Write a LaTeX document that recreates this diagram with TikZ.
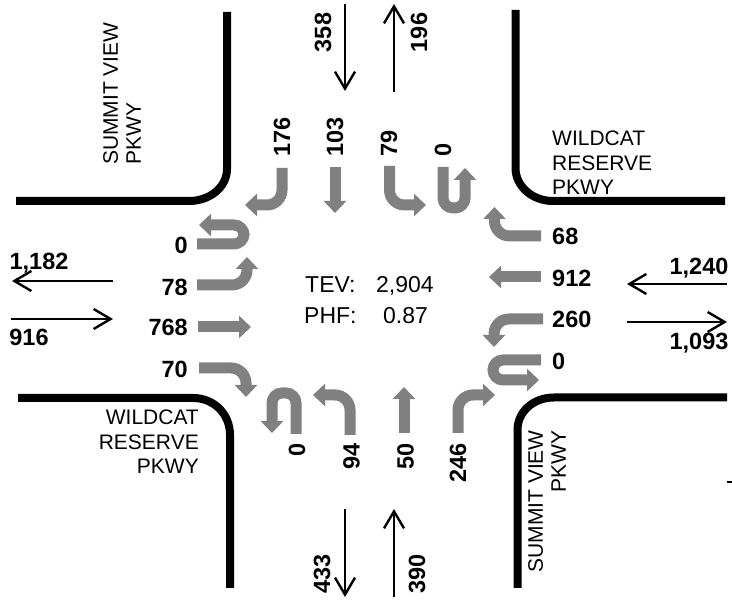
\documentclass[tikz,border=0pt]{standalone}
\usepackage{fontspec}
\setmainfont{Liberation Sans}
\usetikzlibrary{arrows.meta}
\tikzset{
  curb/.style={line width=8pt},
  move/.style={draw=gray,line width=11pt,-{Triangle[width=22pt,length=12pt]},rounded corners=15pt},
  uturn/.style={move,rounded corners=10pt},
  flow/.style={line width=2.4pt,-{Straight Barb[length=17pt,width=20pt]}},
  count/.style={font=\fontsize{23.5}{25}\selectfont\bfseries,inner sep=0pt},
  road/.style={font=\fontsize{21}{24.5}\selectfont,inner sep=0pt},
  roadup/.style={font=\fontsize{21}{23}\selectfont,inner sep=0pt,rotate=90},
  info/.style={font=\fontsize{23}{25}\selectfont,inner sep=0pt,anchor=base west}
}
\begin{document}
\begin{tikzpicture}[x=1pt,y=-1pt,>=stealth]
\useasboundingbox (0,0) rectangle (732,601);

% curbs
\draw[curb] (16,201) -- (189,201) .. controls (210,201) and (227,187) .. (227,169) -- (227,12);
\draw[curb] (515.5,10) -- (515.5,168) .. controls (515.5,186) and (532,201) .. (553,201) -- (725,201);
\draw[curb] (18,398) -- (193,398) .. controls (214,398) and (230,414) .. (230,435) -- (230,588);
\draw[curb] (517.5,588) -- (517.5,430) .. controls (517.5,412) and (533,397.5) .. (554,397.5) -- (727,397.5);
\draw[line width=2pt] (727,482) -- (732,482);

% turning movements, north leg
\coordinate (nr1) at (282,168); \coordinate (nr2) at (245,205);
\coordinate (nt1) at (335,167); \coordinate (nt2) at (335,213);
\coordinate (nl1) at (389.5,166); \coordinate (nl2) at (426,205);
\coordinate (nu1) at (443,167); \coordinate (nu2) at (465,168);
\draw[move] (nr1) |- (nr2);
\draw[move] (nt1) -- (nt2);
\draw[move] (nl1) |- (nl2);
\draw[uturn] (nu1) -- (443,208) -- (465,208) -- (nu2);

% east leg
\coordinate (er1) at (541,236); \coordinate (er2) at (494.5,207);
\coordinate (et1) at (541,277); \coordinate (et2) at (489,277);
\coordinate (el1) at (543,319); \coordinate (el2) at (494,347);
\coordinate (eu1) at (541,360); \coordinate (eu2) at (539,380);
\draw[move] (er1) -| (er2);
\draw[move] (et1) -- (et2);
\draw[move] (el1) -| (el2);
\draw[uturn] (eu1) -- (493,360) -- (493,380) -- (eu2);

% south leg
\coordinate (sr1) at (458,433); \coordinate (sr2) at (495,395);
\coordinate (st1) at (404,433); \coordinate (st2) at (404,387);
\coordinate (sl1) at (350,435); \coordinate (sl2) at (313,395);
\coordinate (su1) at (296,434); \coordinate (su2) at (272,433);
\draw[move] (sr1) |- (sr2);
\draw[move] (st1) -- (st2);
\draw[move] (sl1) |- (sl2);
\draw[uturn] (su1) -- (296,393) -- (272,393) -- (su2);

% west leg
\coordinate (wr1) at (199,368); \coordinate (wr2) at (246,397);
\coordinate (wt1) at (198,327); \coordinate (wt2) at (251,327);
\coordinate (wl1) at (197,285); \coordinate (wl2) at (247,257);
\coordinate (wu1) at (197,244); \coordinate (wu2) at (199,225);
\draw[move] (wr1) -| (wr2);
\draw[move] (wt1) -- (wt2);
\draw[move] (wl1) -| (wl2);
\draw[uturn] (wu1) -- (244,244) -- (244,225) -- (wu2);

% approach and departure volumes
\coordinate (ni1) at (345,4); \coordinate (ni2) at (345,91);
\coordinate (no1) at (394,92); \coordinate (no2) at (394,4);
\coordinate (ei1) at (727,284); \coordinate (ei2) at (627,284);
\coordinate (eo1) at (627,322); \coordinate (eo2) at (727,322);
\coordinate (si1) at (394,597); \coordinate (si2) at (394,509);
\coordinate (so1) at (345,509); \coordinate (so2) at (345,597);
\coordinate (wi1) at (11,319); \coordinate (wi2) at (113,319);
\coordinate (wo1) at (113,281); \coordinate (wo2) at (12,281);
\foreach \a/\b in {ni1/ni2,no1/no2,ei1/ei2,eo1/eo2,si1/si2,so1/so2,wi1/wi2,wo1/wo2}
  \draw[flow] (\a) -- (\b);

% counts
\node[count,rotate=90] (n176) at (282,137) {176};
\node[count,rotate=90] (n103) at (335,137) {103};
\node[count,rotate=90] (n79) at (389,143.5) {79};
\node[count,rotate=90] (n0) at (443,150) {0};
\node[count,anchor=west] (e68) at (552,236) {68};
\node[count,anchor=west] (e912) at (552,278) {912};
\node[count,anchor=west] (e260) at (552,319) {260};
\node[count,anchor=west] (e0) at (552,361) {0};
\node[count,rotate=90] (s0) at (297,450) {0};
\node[count,rotate=90] (s94) at (351.5,456.5) {94};
\node[count,rotate=90] (s50) at (405.5,456.5) {50};
\node[count,rotate=90] (s246) at (458,463) {246};
\node[count,anchor=east] (w0) at (188,245) {0};
\node[count,anchor=east] (w78) at (188,287) {78};
\node[count,anchor=east] (w768) at (188,327) {768};
\node[count,anchor=east] (w70) at (188,369) {70};

% leg volumes
\node[count,rotate=90] (n358) at (323,32.5) {358};
\node[count,rotate=90] (n196) at (419,32.5) {196};
\node[count] (e1240) at (699,268) {1,240};
\node[count] (e1093) at (699,343) {1,093};
\node[count,rotate=90] (s433) at (322,574) {433};
\node[count,rotate=90] (s390) at (417,574) {390};
\node[count] (w1182) at (39,263) {1,182};
\node[count] (w916) at (29,337) {916};

% street names
\node[roadup,anchor=south west,align=left] (nwname) at (141,165) {SUMMIT VIEW\\PKWY};
\node[road,anchor=south west,align=left] (nename) at (552,195) {WILDCAT\\RESERVE\\PKWY};
\node[road,anchor=south east,align=right] (swname) at (199,474) {WILDCAT\\RESERVE\\PKWY};
\node[roadup,anchor=south east,align=right] (sename) at (566,430) {SUMMIT VIEW\\PKWY};

% totals
\node[info] (tev) at (305,293) {TEV:};
\node[info] (tevval) at (376,293) {2,904};
\node[info] (phf) at (304,324) {PHF:};
\node[info] (phfval) at (383,324) {0.87};
\end{tikzpicture}
\end{document}
